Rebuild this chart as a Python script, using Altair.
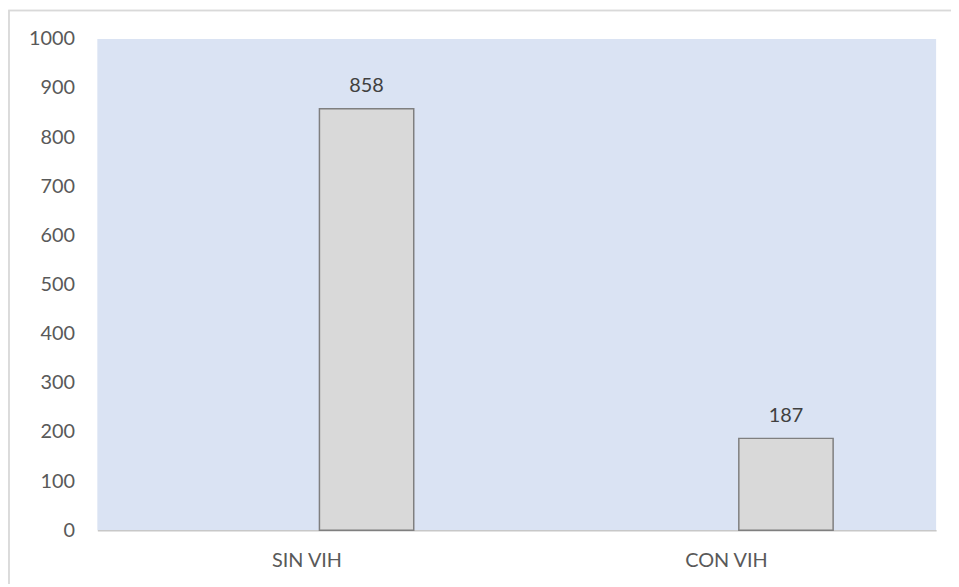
import altair as alt
import pandas as pd

categories = ["SIN VIH", "CON VIH"]
values = [858, 187]
y_ticks = [0, 100, 200, 300, 400, 500, 600, 700, 800, 900, 1000]

df = pd.DataFrame({"cat": categories, "val": values})

FONT = "Lato"

x_enc = alt.X("cat:N", sort=categories, title=None,
              scale=alt.Scale(paddingInner=0, paddingOuter=0),
              axis=alt.Axis(labelAngle=0, ticks=False, domain=True, domainColor="#c8c8c8",
                            domainWidth=1.5, labelPadding=21, labelFontSize=20,
                            labelFont=FONT, labelColor="#595959", grid=False))
y_enc = alt.Y("val:Q", title=None,
              scale=alt.Scale(domain=[0, 1000], nice=False),
              axis=alt.Axis(values=y_ticks, format="d", ticks=False, domain=False, grid=False,
                            labelPadding=23, labelFontSize=20, labelFont=FONT,
                            labelColor="#595959"))

bars = alt.Chart(df).mark_bar(width=95, xOffset=60, fill="#d9d9d9", stroke="#7f7f7f",
                              strokeWidth=1.5).encode(x=x_enc, y=y_enc)

labels = alt.Chart(df).mark_text(xOffset=60, dy=-17, baseline="alphabetic", fontSize=20,
                                 font=FONT, color="#404040").encode(
    x=alt.X("cat:N", sort=categories), y="val:Q", text="val:Q")

frame = alt.Chart(df).mark_rect(fill=None, stroke="#d9d9d9", strokeWidth=1.5,
                                clip=False).encode(
    x=alt.value(-89), x2=alt.value(900), y=alt.value(-28.5), y2=alt.value(700))

chart = alt.layer(frame, bars, labels).properties(
    width=845, height=495,
    autosize=alt.AutoSizeParams(type="none"),
    padding={"left": 90, "top": 29, "right": 15, "bottom": 52},
    background="white",
).configure_view(fill="#dae3f3", stroke=None)

chart.save("out.html", embed_options={"renderer": "svg", "actions": False})
